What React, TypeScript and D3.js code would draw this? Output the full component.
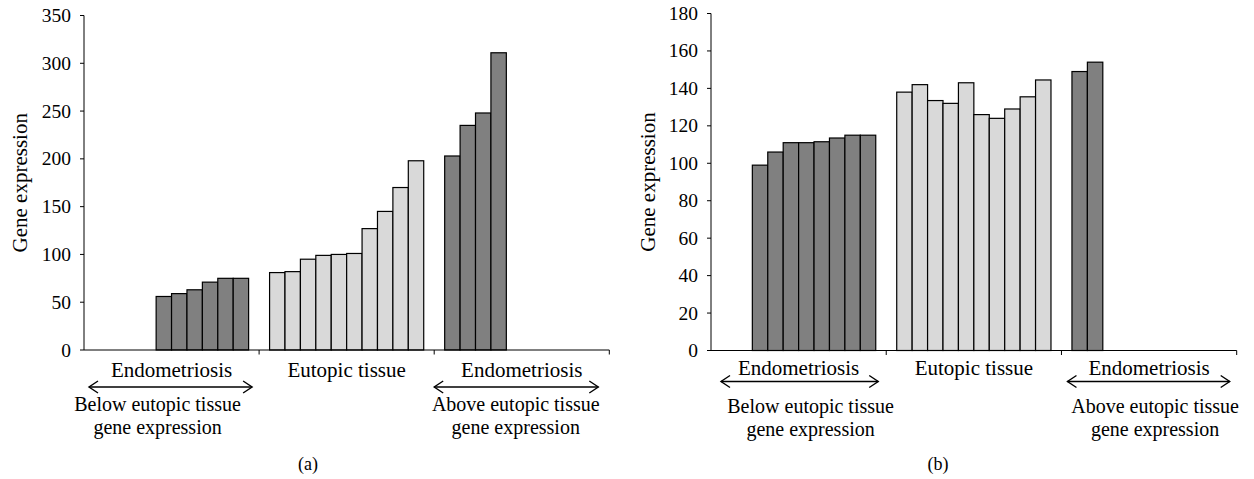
import React from "react";
import * as d3 from "d3";

const width = 1254;
const height = 479;

const categories = ["Endometriosis", "Eutopic tissue", "Endometriosis"];
const slots = d3.range(10);

// panel (a)
const aBelow = [56, 59, 63, 71, 75, 75];
const aEutopic = [81, 82, 95, 99, 100, 101, 127, 145, 170, 198];
const aAbove = [203, 235, 248, 311];
const aTicks = [0, 50, 100, 150, 200, 250, 300, 350];

// panel (b)
const bBelow = [99, 106, 111, 111, 111.5, 113.5, 115, 115];
const bEutopic = [138, 142, 133.5, 132, 143, 126, 124, 129, 135.5, 144.5];
const bAbove = [149, 154];
const bTicks = [0, 20, 40, 60, 80, 100, 120, 140, 160, 180];

const dark = "#808080";
const light = "#d9d9d9";
const font = "'Liberation Serif', 'Times New Roman', serif";
const fs = 21;
const noteFs = 20;

const panels = [
  {
    id: "(a)",
    below: aBelow, eutopic: aEutopic, above: aAbove, ticks: aTicks,
    x0: 84, x1: 609.3, y0: 350, y1: 15.5,
    yLabelX: 27, catY: 377, arrowY: 387,
    arrowInset: [[5, 7], [0, 11]],
    noteShift: [-14, -6], noteY: [411, 433.5], tagX: 308,
  },
  {
    id: "(b)",
    below: bBelow, eutopic: bEutopic, above: bAbove, ticks: bTicks,
    x0: 711, x1: 1236.7, y0: 350.5, y1: 13.5,
    yLabelX: 655, catY: 375, arrowY: 381.5,
    arrowInset: [[10, 8], [6, 7]],
    noteShift: [12, 6], noteY: [413, 435.5], tagX: 938,
  },
];

const Arrow = ({ x1, x2, y }) => (
  <g fill="none" stroke="#000" strokeWidth={1.4}>
    <line x1={x1} x2={x2} y1={y} y2={y} />
    <polyline points={`${x1 + 9},${y - 6} ${x1},${y} ${x1 + 9},${y + 6}`} />
    <polyline points={`${x2 - 9},${y - 6} ${x2},${y} ${x2 - 9},${y + 6}`} />
  </g>
);

const Panel = ({ p }) => {
  const yMax = p.ticks[p.ticks.length - 1];
  const y = d3.scaleLinear().domain([0, yMax]).range([p.y0, p.y1]);
  const cat = d3.scaleBand().domain(d3.range(3)).range([p.x0, p.x1]).padding(0);
  const slot = d3.scaleBand().domain(slots).range([0, cat.bandwidth()]).paddingInner(0).paddingOuter(0.68);

  // below group sits in the last slots, above group in the first
  const bars = [
    ...p.below.map((v, i) => ({ c: 0, s: 10 - p.below.length + i, v, fill: dark })),
    ...p.eutopic.map((v, i) => ({ c: 1, s: i, v, fill: light })),
    ...p.above.map((v, i) => ({ c: 2, s: i, v, fill: dark })),
  ];

  const mid = (c) => cat(c) + cat.bandwidth() / 2;
  const yMid = (p.y0 + p.y1) / 2;

  return (
    <g fontFamily={font} fill="#000">
      {bars.map((b, i) => (
        <rect key={i}
          x={cat(b.c) + slot(b.s)} y={y(b.v)}
          width={slot.bandwidth()} height={p.y0 - y(b.v)}
          fill={b.fill} stroke="#000" strokeWidth={1.2} />
      ))}

      <line x1={p.x0} x2={p.x0} y1={p.y1} y2={p.y0} stroke="#000" strokeWidth={1} />
      <line x1={p.x0} x2={p.x1} y1={p.y0} y2={p.y0} stroke="#000" strokeWidth={1} />
      {p.ticks.map((t) => (
        <g key={t}>
          <line x1={p.x0 - 4} x2={p.x0} y1={y(t)} y2={y(t)} stroke="#000" />
          <text x={p.x0 - 13} y={y(t) + 6.5} fontSize={19.5} textAnchor="end">{t}</text>
        </g>
      ))}
      {[1, 2, 3].map((i) => {
        const xx = i < 3 ? cat(i) : p.x1;
        return <line key={i} x1={xx} x2={xx} y1={p.y0} y2={p.y0 + 4.5} stroke="#000" />;
      })}

      <text transform={`translate(${p.yLabelX},${yMid}) rotate(-90)`} fontSize={fs} textAnchor="middle">
        Gene expression
      </text>

      {categories.map((c, i) => (
        <text key={i} x={mid(i)} y={p.catY} fontSize={fs} textAnchor="middle">{c}</text>
      ))}

      <Arrow x1={cat(0) + p.arrowInset[0][0]} x2={cat(0) + cat.bandwidth() - p.arrowInset[0][1]} y={p.arrowY} />
      <Arrow x1={cat(2) + p.arrowInset[1][0]} x2={cat(2) + cat.bandwidth() - p.arrowInset[1][1]} y={p.arrowY} />

      <text x={mid(0) + p.noteShift[0]} y={p.noteY[0]} fontSize={noteFs} textAnchor="middle">Below eutopic tissue</text>
      <text x={mid(0) + p.noteShift[0]} y={p.noteY[1]} fontSize={noteFs} textAnchor="middle">gene expression</text>
      <text x={mid(2) + p.noteShift[1]} y={p.noteY[0]} fontSize={noteFs} textAnchor="middle">Above eutopic tissue</text>
      <text x={mid(2) + p.noteShift[1]} y={p.noteY[1]} fontSize={noteFs} textAnchor="middle">gene expression</text>

      <text x={p.tagX} y={470} fontSize={18} textAnchor="middle">{p.id}</text>
    </g>
  );
};

export default function App() {
  return (
    <svg width={width} height={height} style={{ position: "absolute", left: 0, top: 0, background: "#fff" }}>
      <rect width={width} height={height} fill="#fff" />
      {panels.map((p) => <Panel key={p.id} p={p} />)}
    </svg>
  );
}
